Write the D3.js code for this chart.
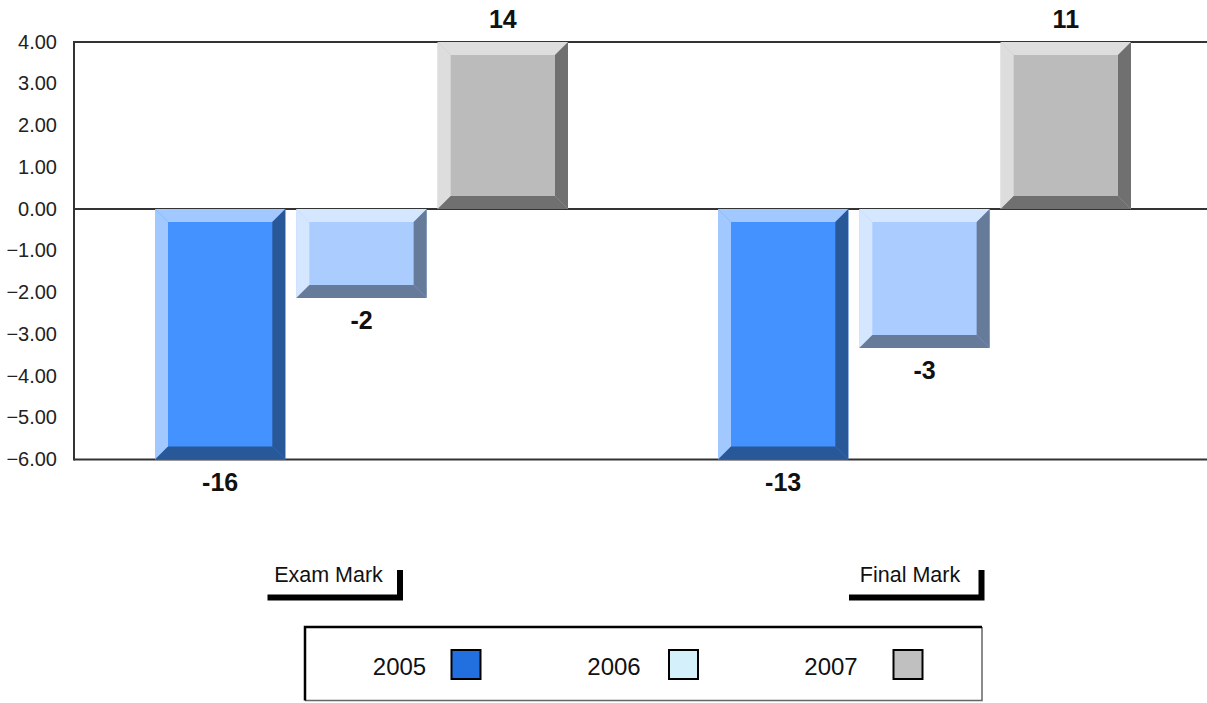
<!DOCTYPE html>
<html>
<head>
<meta charset="utf-8">
<script src="https://cdn.jsdelivr.net/npm/d3@7"></script>
<style>
  html, body { margin: 0; padding: 0; background: #fff; }
  svg { display: block; font-family: "Liberation Sans", Arial, sans-serif; }
</style>
</head>
<body>
<svg id="chart" width="1207" height="703"></svg>
<script>
// ---- data ----
const categories = ["Exam Mark", "Final Mark"];
const seriesNames = ["2005", "2006", "2007"];
const values2005 = [-16, -13];
const values2006 = [-2.13, -3.33];
const values2007 = [14, 11];
const valueLabels2005 = ["-16", "-13"];
const valueLabels2006 = ["-2", "-3"];
const valueLabels2007 = ["14", "11"];
const yTicks = [4, 3, 2, 1, 0, -1, -2, -3, -4, -5, -6];
const yDomain = [-6, 4];
const barColors = ["#4492ff", "#aaccff", "#bbbbbb"];
const legendColors = ["#2270e0", "#d4f0fa", "#c0c0c0"];

// ---- layout ----
const W = 1207, H = 703;
const plot = { left: 74, right: 1200, top: 42, bottom: 459.5 };
const bevel = 13;
const catLabelShift = [-20, -1.5];
const legendTextX = [399.5, 614, 831];
const legendSwatchX = [451.5, 669, 893.5];

const series = [
  { name: seriesNames[0], values: values2005, labels: valueLabels2005, color: barColors[0] },
  { name: seriesNames[1], values: values2006, labels: valueLabels2006, color: barColors[1] },
  { name: seriesNames[2], values: values2007, labels: valueLabels2007, color: barColors[2] }
];

const svg = d3.select("#chart");

const y = d3.scaleLinear().domain(yDomain).range([plot.bottom, plot.top]);
const x0 = d3.scaleBand().domain(categories).range([plot.left, plot.right]).paddingInner(0).paddingOuter(0);
const x1 = d3.scaleBand().domain(seriesNames).range([81, 494]).paddingInner(0.078).paddingOuter(0);

// grid / frame lines (under bars)
const lines = svg.append("g").attr("stroke", "#333").attr("stroke-width", 2);
[yDomain[1], 0, yDomain[0]].forEach(v => {
  lines.append("line").attr("x1", plot.left).attr("x2", W).attr("y1", y(v)).attr("y2", y(v));
});
lines.append("line").attr("x1", plot.left).attr("x2", plot.left).attr("y1", y(yDomain[1]) - 1).attr("y2", y(yDomain[0]) + 1);

// y axis labels
const yAxis = d3.axisLeft(y).tickValues(yTicks).tickSize(0).tickPadding(17).tickFormat(d3.format(".2f"));
const yg = svg.append("g").attr("transform", `translate(${plot.left},0)`).call(yAxis);
yg.select(".domain").remove();
yg.selectAll("text").attr("font-size", 20).attr("fill", "#222").attr("font-family", "Liberation Sans, Arial, sans-serif").attr("dy", "0.3em");

// bars
const barsG = svg.append("g");
series.forEach(s => {
  const base = d3.color(s.color);
  const light = d3.interpolateRgb(s.color, "#ffffff")(0.5);
  const dark = d3.rgb(base.r * 0.6, base.g * 0.6, base.b * 0.6).toString();
  categories.forEach((c, i) => {
    const v = s.values[i];
    const vc = Math.max(yDomain[0], Math.min(yDomain[1], v));
    const xl = x0(c) + x1(s.name);
    const w = x1.bandwidth();
    const xr = xl + w;
    const yt = Math.min(y(0), y(vc));
    const yb = Math.max(y(0), y(vc));
    const b = bevel;
    const g = barsG.append("g");
    g.append("rect").attr("x", xl).attr("y", yt).attr("width", w).attr("height", yb - yt).attr("fill", s.color);
    const poly = (pts, fill) => g.append("polygon").attr("points", pts.map(p => p.join(",")).join(" ")).attr("fill", fill);
    poly([[xl, yt], [xr, yt], [xr - b, yt + b], [xl + b, yt + b]], light);
    poly([[xl, yt], [xl + b, yt + b], [xl + b, yb - b], [xl, yb]], light);
    poly([[xr, yt], [xr, yb], [xr - b, yb - b], [xr - b, yt + b]], dark);
    poly([[xl, yb], [xr, yb], [xr - b, yb - b], [xl + b, yb - b]], dark);
    // value label
    const ly = v >= 0 ? y(vc) - 14 : y(vc) + 31;
    svg.append("text").attr("x", xl + w / 2).attr("y", ly).attr("text-anchor", "middle")
      .attr("font-size", 25).attr("font-weight", "bold").attr("fill", "#111").text(s.labels[i]);
  });
});

// category labels with brackets
categories.forEach((c, i) => {
  const cx = x0(c) + x0.bandwidth() / 2 + catLabelShift[i];
  const bl = cx - 68, br = cx + 68;
  const g = svg.append("g");
  g.append("path").attr("d", `M${bl},597.5 H${br - 3.5} V570`).attr("fill", "none")
    .attr("stroke", "#000").attr("stroke-width", 6).attr("stroke-linejoin", "miter");
  g.append("text").attr("x", cx - 7).attr("y", 581.5).attr("text-anchor", "middle")
    .attr("font-size", 21.5).attr("fill", "#111").text(c);
});

// legend
const lg = svg.append("g");
const lx0 = 305, ly0 = 627, lx1 = 982, ly1 = 700.5;
lg.append("rect").attr("x", lx0).attr("y", ly0).attr("width", lx1 - lx0).attr("height", ly1 - ly0).attr("fill", "#fff");
lg.append("path").attr("d", `M${lx1},${ly0} V${ly1} H${lx0}`).attr("fill", "none").attr("stroke", "#666").attr("stroke-width", 1.5);
lg.append("path").attr("d", `M${lx0},${ly1} V${ly0} H${lx1}`).attr("fill", "none").attr("stroke", "#000").attr("stroke-width", 2.5);
seriesNames.forEach((n, i) => {
  lg.append("text").attr("x", legendTextX[i]).attr("y", 675).attr("text-anchor", "middle").attr("font-size", 24).attr("fill", "#111").text(n);
  lg.append("rect").attr("x", legendSwatchX[i]).attr("y", 650).attr("width", 29).attr("height", 29)
    .attr("fill", legendColors[i]).attr("stroke", "#000").attr("stroke-width", 2);
});
</script>
</body>
</html>
